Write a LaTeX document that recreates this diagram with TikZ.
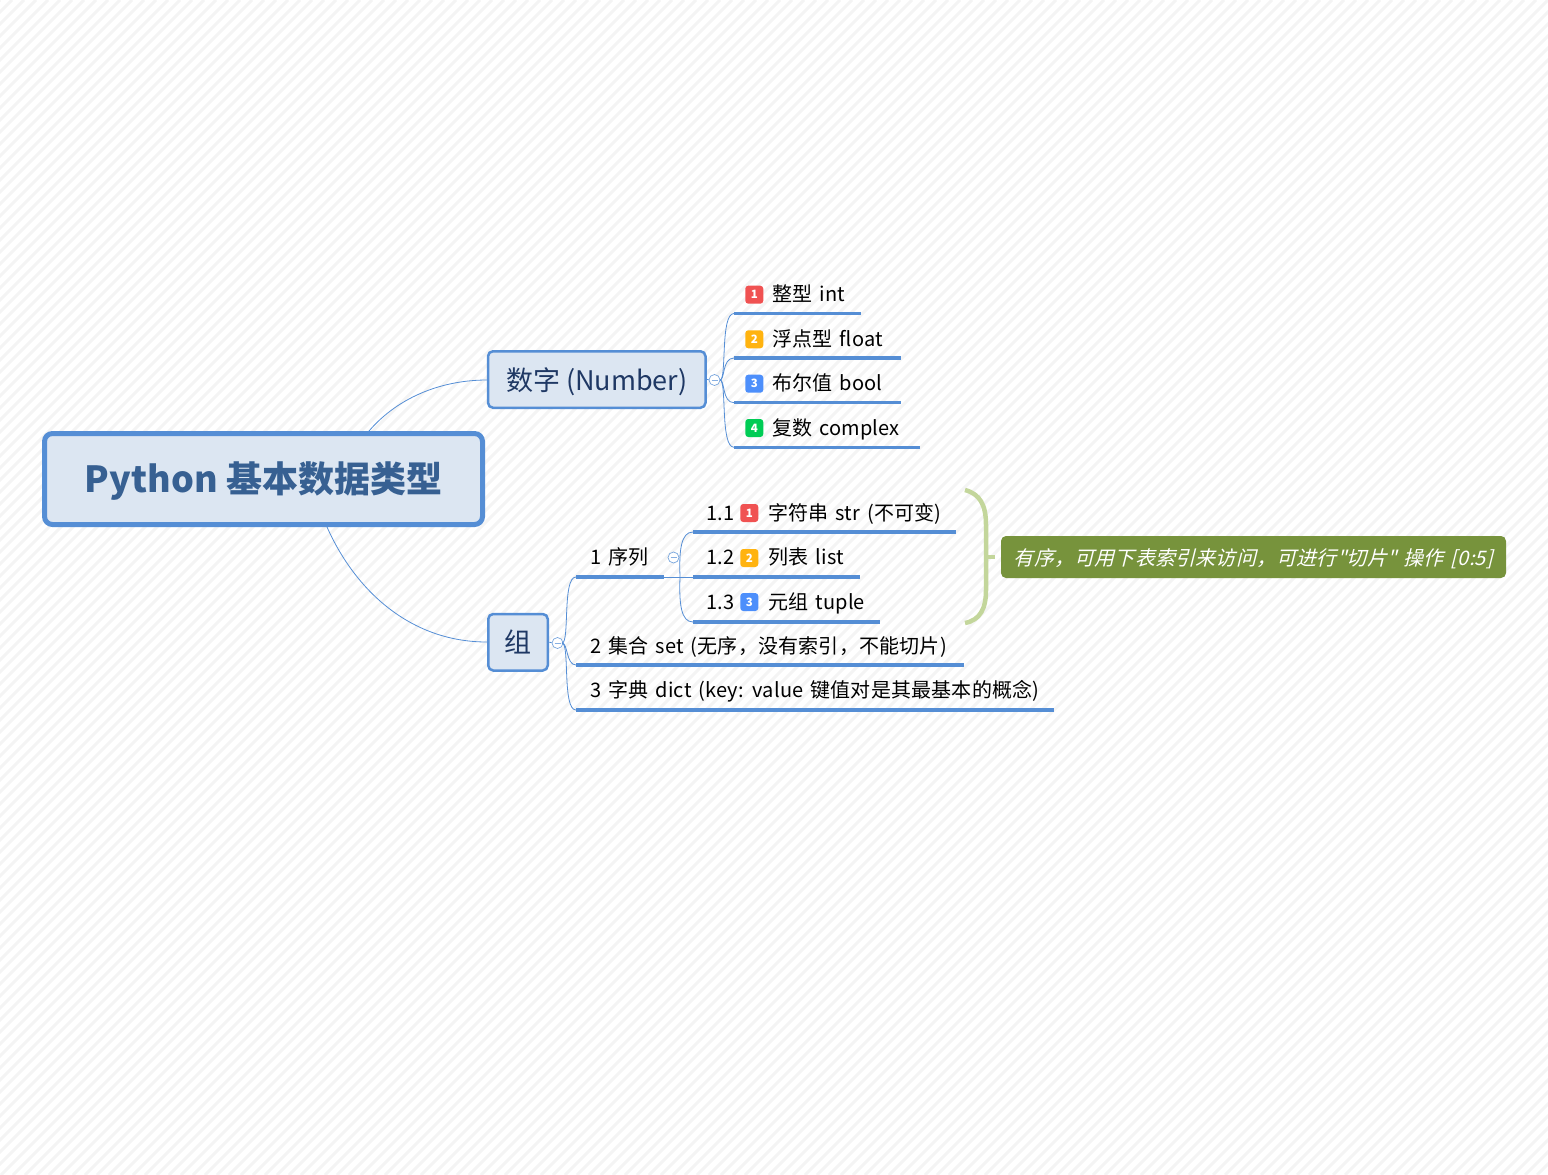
\documentclass[tikz,border=0pt]{standalone}
\usepackage{fontspec}
\setmainfont{Noto Sans CJK SC}
\newfontfamily\leaffont{Noto Sans CJK SC}[AutoFakeSlant=0.25,WordSpace=1.5,LetterSpace=1]
\usetikzlibrary{calc,positioning}
\definecolor{barblue}{HTML}{558ED5}
\definecolor{paleblue}{HTML}{DCE6F2}
\definecolor{inkblue}{HTML}{1F3864}
\definecolor{rootink}{HTML}{376092}
\definecolor{notegreen}{HTML}{77933C}
\definecolor{bracegreen}{HTML}{C3D69B}
\definecolor{stripe}{HTML}{F4F4F4}
\definecolor{badgered}{HTML}{F05252}
\definecolor{badgeorange}{HTML}{FFB30F}
\definecolor{badgeblue}{HTML}{4D8FFB}
\definecolor{badgegreen}{HTML}{00CC55}
\tikzset{
    root/.style={
    rectangle,rounded corners=8pt,draw=barblue,fill=paleblue,line width=5pt,text=rootink,font=\fontsize{36}{40}\selectfont\bfseries,minimum width=438pt,minimum height=91pt,inner sep=0pt,text height=27pt,text depth=0pt
    },
    major/.style={
    rectangle,rounded corners=5pt,draw=barblue,fill=paleblue,line width=2.5pt,text=inkblue,font=\fontsize{27}{32}\selectfont,minimum height=56.5pt,inner sep=0pt,text height=21pt,text depth=0pt
    },
    leaf/.style={
    anchor=base west,inner sep=0pt,text=black,font=\fontsize{20}{24}\leaffont
    },
    badge/.style={
    rectangle,rounded corners=3pt,minimum size=18pt,inner sep=0pt,text=white,font=\fontsize{11.5}{12}\selectfont\bfseries
    },
    toggle/.style={
    circle,draw=barblue!80,fill=white,line width=0.7pt,minimum size=11pt,inner sep=0pt,
    path picture={\draw[barblue!70,line width=1pt] ([xshift=-3pt]path picture bounding box.center) -- ([xshift=3pt]path picture bounding box.center);}
    },
    note/.style={
    rectangle,rounded corners=5pt,fill=notegreen,text=white,font=\fontsize{20}{24}\leaffont\itshape,minimum width=505pt,minimum height=42pt,inner sep=0pt,text height=16pt,text depth=0pt
    },
    bar/.style={barblue,line width=3.5pt},
    twig/.style={barblue,line width=0.8pt},
}
\begin{document}
\begin{tikzpicture}[x=1pt,y=-1pt]
   \useasboundingbox (0,0) rectangle (1548,1175);
   % paper
   \begin{scope}
   \clip (0,0) rectangle (1548,1175);
   \foreach \i in {0,12,...,2724} {
     \draw[stripe,line width=3pt] (\i,0) -- (\i-1175,1175);
   }
   \end{scope}

   \coordinate (rootup) at (369,431);
   \coordinate (rootdown) at (327,527);
   \draw[twig] (rootup) .. controls (400,395) and (445,380) .. (487,380);
   \draw[twig] (rootdown) .. controls (355,590) and (410,642) .. (487,642);

   \node[root] (root) at (263.5,479) {Python 基本数据类型};
   \node[major,minimum width=217.5pt] (num) at (596.75,379.5) {数字 (Number)};
   \node[major,minimum width=59.5pt] (grp) at (518,642.25) {组};

   \node[toggle] (numtog) at (714.5,380) {};
   \node[toggle] (grptog) at (557.5,643) {};
   \node[toggle] (seqtog) at (673.5,557.5) {};
   \draw[twig] (num.east) -- (numtog);
   \draw[twig] (grp.east) -- (grptog);

   % number branch
   \node[leaf] (n1) at (772,301) {整型 int};
   \node[leaf] (n2) at (772,346) {浮点型 float};
   \node[leaf] (n3) at (772,390) {布尔值 bool};
   \node[leaf] (n4) at (772,435) {复数 complex};
   \node[badge,fill=badgered] (nb1) at (754.3,294.7) {1};
   \node[badge,fill=badgeorange] (nb2) at (754.3,339.3) {2};
   \node[badge,fill=badgeblue] (nb3) at (754.3,383.7) {3};
   \node[badge,fill=badgegreen] (nb4) at (754.3,428) {4};
   \coordinate (nf) at (720,380);
   \coordinate (na1) at (734,313.5); \coordinate (nz1) at (861,313.5);
   \coordinate (na2) at (734,358);   \coordinate (nz2) at (900.7,358);
   \coordinate (na3) at (734,402.7); \coordinate (nz3) at (900.7,402.7);
   \coordinate (na4) at (734,447.3); \coordinate (nz4) at (920,447.3);
   \draw[twig] (numtog) -- (nf);
   \draw[twig] (nf) .. controls (727,380) and (720,313.5) .. (na1);
   \draw[twig] (nf) .. controls (725,380) and (722,358) .. (na2);
   \draw[twig] (nf) .. controls (725,380) and (722,402.7) .. (na3);
   \draw[twig] (nf) .. controls (727,380) and (720,447.3) .. (na4);
   \draw[bar] (na1) -- (nz1);
   \draw[bar] (na2) -- (nz2);
   \draw[bar] (na3) -- (nz3);
   \draw[bar] (na4) -- (nz4);

   % second branch
   \node[leaf] (g1) at (590,564) {1 序列};
   \node[leaf] (g2) at (590,653) {2 集合 set (无序，没有索引，不能切片)};
   \node[leaf] (g3) at (590,697) {3 字典 dict (key: value 键值对是其最基本的概念)};
   \coordinate (gf) at (562,643);
   \coordinate (ga1) at (576,577); \coordinate (gz1) at (664,577);
   \coordinate (ga2) at (576,665); \coordinate (gz2) at (964,665);
   \coordinate (ga3) at (576,710); \coordinate (gz3) at (1054,710);
   \draw[twig] (grptog) -- (gf);
   \draw[twig] (gf) .. controls (570,643) and (562,577) .. (ga1);
   \draw[twig] (gf) .. controls (568,643) and (566,665) .. (ga2);
   \draw[twig] (gf) .. controls (570,643) and (562,710) .. (ga3);
   \draw[bar] (ga1) -- (gz1);
   \draw[bar] (ga2) -- (gz2);
   \draw[bar] (ga3) -- (gz3);

   % sequence branch
   \node[leaf] (s1) at (706,520) {1.1};
   \node[leaf] (s2) at (706,564) {1.2};
   \node[leaf] (s3) at (706,609) {1.3};
   \node[badge,fill=badgered] (sb1) at (749.3,513) {1};
   \node[badge,fill=badgeorange] (sb2) at (749.3,558) {2};
   \node[badge,fill=badgeblue] (sb3) at (749.3,602) {3};
   \node[leaf] (st1) at (768,520) {字符串 str (不可变)};
   \node[leaf] (st2) at (768,564) {列表 list};
   \node[leaf] (st3) at (768,609) {元组 tuple};
   \coordinate (sf) at (680,577);
   \coordinate (sa1) at (693,532); \coordinate (sz1) at (956,532);
   \coordinate (sa2) at (693,577); \coordinate (sz2) at (860,577);
   \coordinate (sa3) at (693,622); \coordinate (sz3) at (880,622);
   \draw[twig] (gz1) -- (sa2);
   \draw[twig] (sf) .. controls (679,550) and (681,532) .. (sa1);
   \draw[twig] (sf) .. controls (679,604) and (681,622) .. (sa3);
   \draw[bar] (sa1) -- (sz1);
   \draw[bar] (sa2) -- (sz2);
   \draw[bar] (sa3) -- (sz3);

   % brace and note
   \node[note] (note) at (1253.5,557) {有序，可用下表索引来访问，可进行"切片" 操作 [0:5]};
   \coordinate (bt) at (965,490);
   \coordinate (bb) at (965,623);
   \coordinate (bm) at (986,557);
   \coordinate (bn) at (995,557);
   \draw[bracegreen,line width=4.5pt] (bt) .. controls (980,494) and (986,505) .. (986,525) -- (bm) -- (986,590) .. controls (986,609) and (980,620) .. (bb);
   \draw[bracegreen,line width=4.5pt] (bm) -- (bn);
\end{tikzpicture}
\end{document}
